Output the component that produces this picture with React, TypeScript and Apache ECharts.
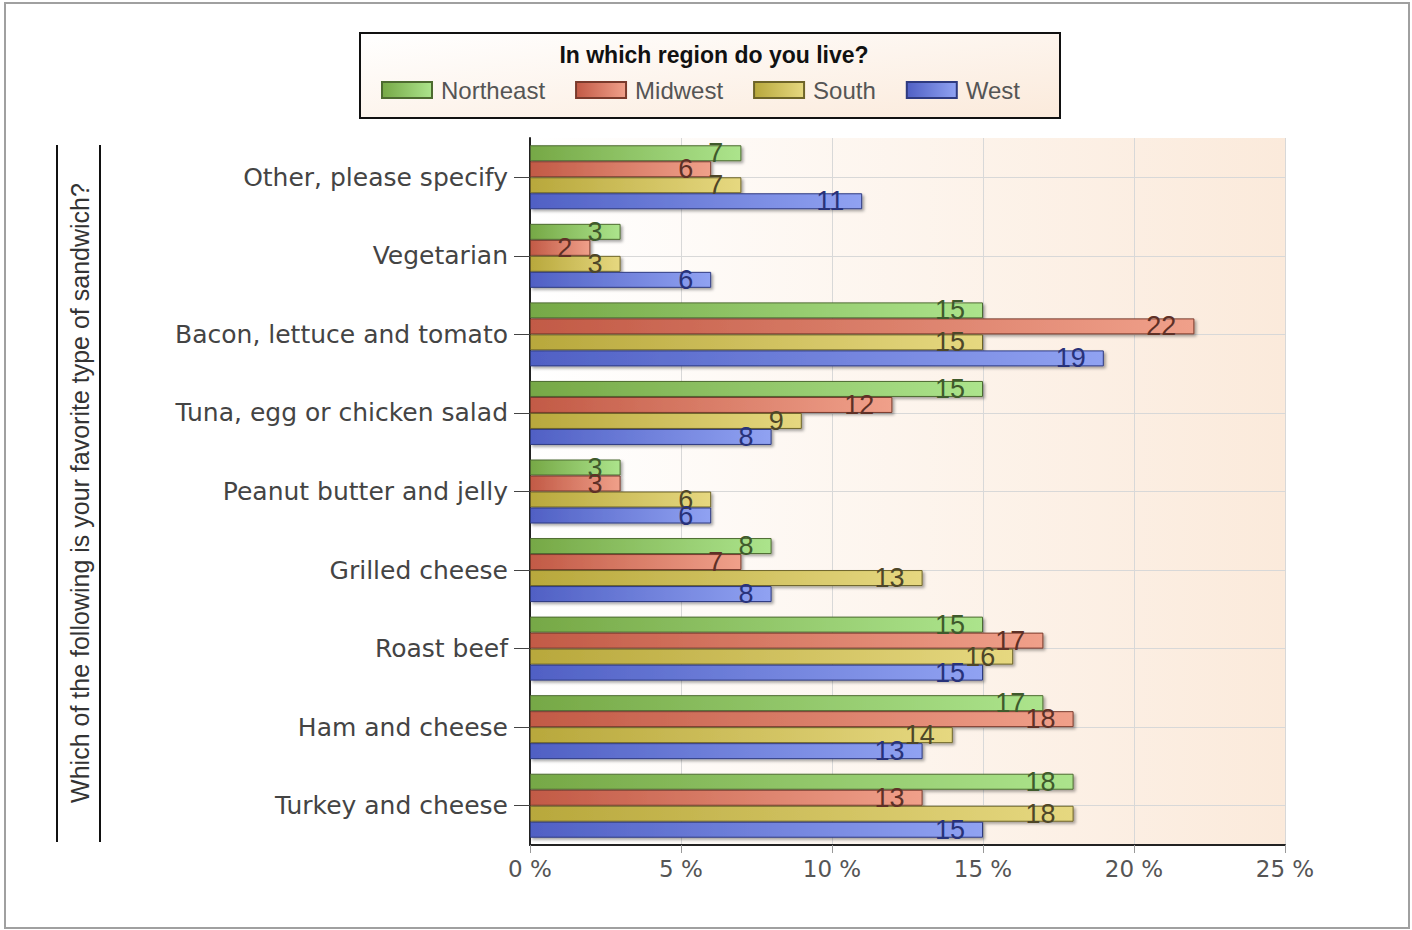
import React, { useEffect, useRef } from "react";
import * as echarts from "echarts";

const categories = [
  "Other, please specify",
  "Vegetarian",
  "Bacon, lettuce and tomato",
  "Tuna, egg or chicken salad",
  "Peanut butter and jelly",
  "Grilled cheese",
  "Roast beef",
  "Ham and cheese",
  "Turkey and cheese",
];
const seriesNames = ["Northeast", "Midwest", "South", "West"];
const northeast = [7, 3, 15, 15, 3, 8, 15, 17, 18];
const midwest = [6, 2, 22, 12, 3, 7, 17, 18, 13];
const south = [7, 3, 15, 9, 6, 13, 16, 14, 18];
const west = [11, 6, 19, 8, 6, 8, 15, 13, 15];
const xTicks = [0, 5, 10, 15, 20, 25];
const legendTitle = "In which region do you live?";
const yTitle = "Which of the following is your favorite type of sandwich?";

const styles = [
  { from: "#76a846", to: "#ace48c", border: "#4d6b30", label: "#3f5a2c" },
  { from: "#c25a46", to: "#f0a08a", border: "#7a3a2c", label: "#5e3026" },
  { from: "#b8a83c", to: "#e6d880", border: "#6e6428", label: "#4e4628" },
  { from: "#5060c4", to: "#90a2f2", border: "#2e3a80", label: "#28327a" },
];

export default function App() {
  const ref = useRef<HTMLDivElement>(null);
  useEffect(() => {
    document.body.style.margin = "0";
    const chart = echarts.init(ref.current!, null, { renderer: "svg" });
    const data = [northeast, midwest, south, west];
    const series = seriesNames.map((name, i) => ({
      name,
      type: "bar",
      data: data[i],
      barWidth: 16,
      barGap: "0%",
      itemStyle: {
        color: new echarts.graphic.LinearGradient(0, 0, 1, 0, [
          { offset: 0, color: styles[i].from },
          { offset: 1, color: styles[i].to },
        ]),
        borderColor: styles[i].border,
        borderWidth: 1,
        shadowColor: "rgba(0,0,0,0.35)",
        shadowBlur: 3,
        shadowOffsetX: 2,
        shadowOffsetY: 2,
      },
      label: {
        show: true,
        position: "insideRight",
        distance: 18,
        fontSize: 27,
        fontFamily: "Liberation Sans",
        color: styles[i].label,
        formatter: "{c}",
      },
    }));
    chart.setOption({
      animation: false,
      backgroundColor: "#ffffff",
      legend: {
        data: seriesNames,
        left: 376,
        top: 73,
        icon: "rect",
        itemWidth: 50,
        itemHeight: 16,
        itemGap: 30,
        textStyle: {
          fontSize: 24,
          color: "#555",
          fontFamily: "Liberation Sans",
          padding: [0, 0, 0, 4],
        },
      },
      grid: {
        left: 530,
        right: 127,
        top: 138,
        bottom: 85,
        show: true,
        borderWidth: 0,
        backgroundColor: new echarts.graphic.LinearGradient(0, 0, 1, 0, [
          { offset: 0, color: "#ffffff" },
          { offset: 1, color: "#fbeadb" },
        ]),
      },
      xAxis: {
        type: "value",
        min: 0,
        max: 25,
        interval: 5,
        axisLine: { show: true, lineStyle: { color: "#222", width: 2 } },
        axisTick: { show: true, length: 8, lineStyle: { color: "#999" } },
        axisLabel: {
          formatter: (v: number) => (xTicks.includes(v) ? v + " %" : ""),
          fontSize: 23,
          color: "#555",
          margin: 12,
          fontFamily: "DejaVu Sans",
        },
        splitLine: { show: true, lineStyle: { color: "#d8d8d8", width: 1 } },
      },
      yAxis: {
        type: "category",
        data: categories,
        inverse: true,
        axisLine: { show: true, lineStyle: { color: "#222", width: 2 } },
        axisTick: { show: true, alignWithLabel: true, length: 16, lineStyle: { color: "#444" } },
        axisLabel: { fontSize: 25, color: "#444", margin: 22, fontFamily: "DejaVu Sans" },
        splitLine: { show: true, alignWithLabel: true, lineStyle: { color: "#d8d8d8", width: 1 } },
      },
      graphic: [
        {
          type: "rect",
          shape: { x: 5, y: 3, width: 1404, height: 925 },
          style: { fill: "none", stroke: "#a0a0a0", lineWidth: 2 },
          z: -10,
        },
        {
          type: "rect",
          shape: { x: 360, y: 33, width: 700, height: 85 },
          style: {
            fill: new echarts.graphic.LinearGradient(0, 0, 1, 1, [
              { offset: 0, color: "#ffffff" },
              { offset: 1, color: "#fbeadb" },
            ]),
            stroke: "#111",
            lineWidth: 2,
          },
          z: -5,
        },
        {
          type: "text",
          x: 714,
          y: 55,
          style: {
            text: legendTitle,
            fontSize: 23,
            fontWeight: "bold",
            fill: "#111",
            fontFamily: "Liberation Sans",
            align: "center",
            verticalAlign: "middle",
          },
        },
        {
          type: "text",
          x: 80,
          y: 493,
          rotation: Math.PI / 2,
          style: {
            text: yTitle,
            fontSize: 25,
            fill: "#333",
            fontFamily: "Liberation Sans",
            align: "center",
            verticalAlign: "middle",
          },
        },
        {
          type: "line",
          shape: { x1: 57, y1: 145, x2: 57, y2: 842 },
          style: { stroke: "#111", lineWidth: 2 },
        },
        {
          type: "line",
          shape: { x1: 100, y1: 145, x2: 100, y2: 842 },
          style: { stroke: "#111", lineWidth: 2 },
        },
      ],
      series,
    });
    return () => chart.dispose();
  }, []);
  return <div ref={ref} style={{ width: 1412, height: 930 }} />;
}
